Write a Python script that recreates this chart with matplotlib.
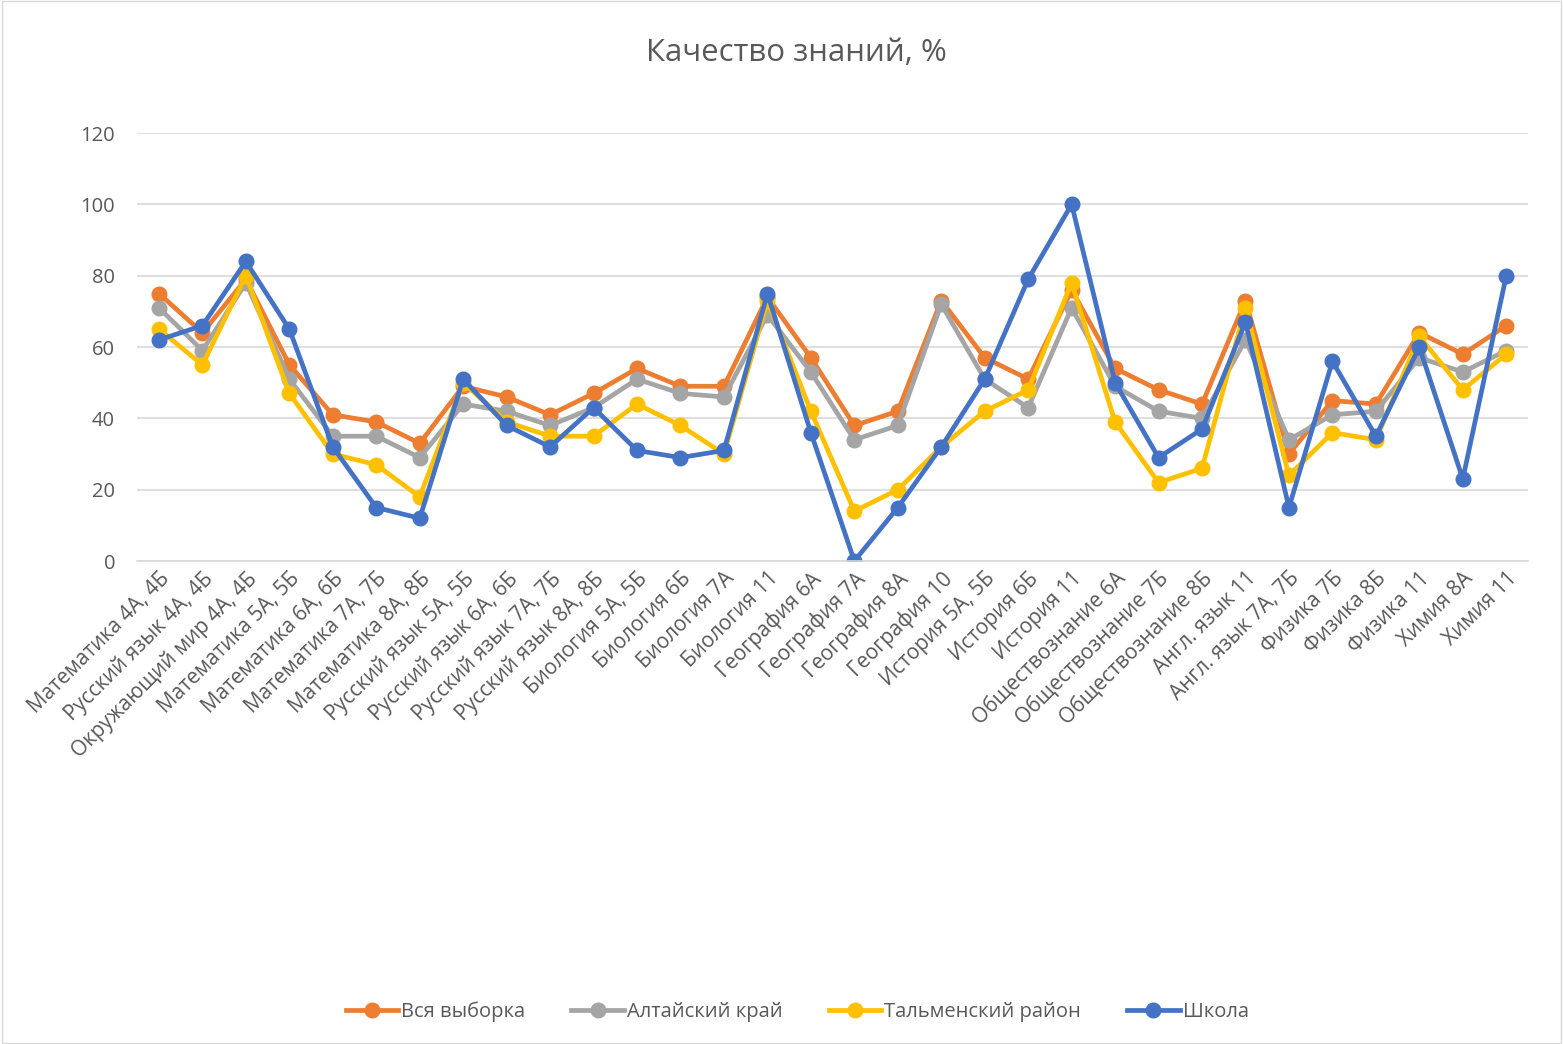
import matplotlib
matplotlib.use("Agg")
import matplotlib.pyplot as plt
from matplotlib.patches import Rectangle

categories = [
    "Математика 4А, 4Б", "Русский язык 4А, 4Б", "Окружающий мир 4А, 4Б",
    "Математика 5А, 5Б", "Математика 6А, 6Б", "Математика 7А, 7Б",
    "Математика 8А, 8Б", "Русский язык 5А, 5Б", "Русский язык 6А, 6Б",
    "Русский язык 7А, 7Б", "Русский язык 8А, 8Б", "Биология 5А, 5Б",
    "Биология 6Б", "Биология 7А", "Биология 11", "География 6А",
    "География 7А", "География 8А", "География 10", "История 5А, 5Б",
    "История 6Б", "История 11", "Обществознание 6А", "Обществознание 7Б",
    "Обществознание 8Б", "Англ. язык 11", "Англ. язык 7А, 7Б", "Физика 7Б",
    "Физика 8Б", "Физика 11", "Химия 8А", "Химия 11",
]

vsya_vyborka = [75, 64, 79, 55, 41, 39, 33, 49, 46, 41, 47, 54, 49, 49, 74, 57,
                38, 42, 73, 57, 51, 76, 54, 48, 44, 73, 30, 45, 44, 64, 58, 66]
altai_krai = [71, 59, 78, 51, 35, 35, 29, 44, 42, 38, 43, 51, 47, 46, 69, 53,
              34, 38, 72, 51, 43, 71, 49, 42, 40, 62, 34, 41, 42, 57, 53, 59]
talmen_rayon = [65, 55, 80, 47, 30, 27, 18, 50, 39, 35, 35, 44, 38, 30, 73, 42,
                14, 20, 32, 42, 48, 78, 39, 22, 26, 71, 24, 36, 34, 63, 48, 58]
shkola = [62, 66, 84, 65, 32, 15, 12, 51, 38, 32, 43, 31, 29, 31, 75, 36,
          0, 15, 32, 51, 79, 100, 50, 29, 37, 67, 15, 56, 35, 60, 23, 80]

series_names = ["Вся выборка", "Алтайский край", "Тальменский район", "Школа"]
series_values = [vsya_vyborka, altai_krai, talmen_rayon, shkola]
colors = ["#ED7D31", "#A5A5A5", "#FFC000", "#4472C4"]

yticks = [0, 20, 40, 60, 80, 100, 120]

plt.rcParams['font.family'] = ['Open Sans', 'DejaVu Sans']
text_color = "#595959"

fig = plt.figure(figsize=(15.63, 10.44), dpi=100)
ax = fig.add_axes([0.0878, 0.4626, 0.8898, 0.41])

x = list(range(len(categories)))
for name, vals, c in zip(series_names, series_values, colors):
    ax.plot(x, vals, color=c, lw=3.4, marker='o', markersize=10.5,
            label=name, solid_joinstyle='round')

ax.set_xlim(-0.5, len(categories) - 0.5)
ax.set_ylim(0, 120)
ax.set_yticks(yticks)
ax.set_yticklabels([str(v) for v in yticks], fontsize=14.5, color=text_color)
ax.yaxis.grid(True, color="#D9D9D9", lw=1.2)
ax.set_axisbelow(True)
ax.tick_params(axis='y', length=0, pad=16)
ax.tick_params(axis='x', length=0, pad=5)
for s in ["top", "right", "left"]:
    ax.spines[s].set_visible(False)
ax.spines["bottom"].set_color("#D9D9D9")
ax.spines["bottom"].set_linewidth(1.2)

ax.set_xticks(x)
ax.set_xticklabels(categories, rotation=45, ha='right', va='top',
                   rotation_mode='anchor', fontsize=15, color=text_color)

fig.text(0.5095, 1 - 53 / 1044, "Качество знаний, %", fontsize=22.5,
         color=text_color, ha='center', va='center')

leg = fig.legend(loc='center', bbox_to_anchor=(0.51, 0.031), ncol=4,
                 frameon=False, fontsize=14.5, handlelength=2.6,
                 columnspacing=2.3, handletextpad=0.15)
for t in leg.get_texts():
    t.set_color(text_color)

fig.patches.append(Rectangle((0.001, 0.001), 0.998, 0.998, transform=fig.transFigure,
                             fill=False, edgecolor="#D9D9D9", lw=1.0))

fig.savefig("out.png", dpi=100, facecolor="white")
